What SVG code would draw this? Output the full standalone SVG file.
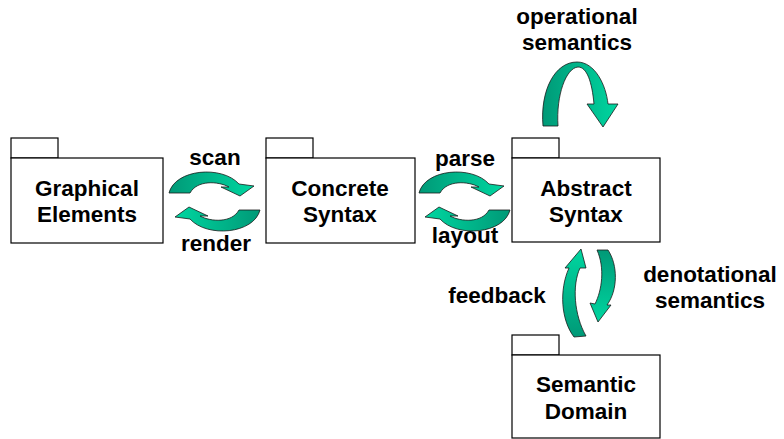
<svg xmlns="http://www.w3.org/2000/svg" width="784" height="439" viewBox="0 0 784 439">
<style>
.box{fill:#fff;stroke:#000;stroke-width:1.2}
.t{font-family:"Liberation Sans",Arial,sans-serif;font-weight:bold;font-size:22.5px;fill:#000;text-anchor:middle}
.arr{stroke:#1a1a1a;stroke-width:0.8;stroke-linejoin:round}
</style>
<defs>
<linearGradient id="gh" x1="0" y1="0" x2="1" y2="0">
<stop offset="0" stop-color="#009977"/>
<stop offset="1" stop-color="#00D6A0"/>
</linearGradient>
<linearGradient id="gup" x1="0" y1="1" x2="0" y2="0">
<stop offset="0" stop-color="#009977"/>
<stop offset="1" stop-color="#00D6A0"/>
</linearGradient>
<linearGradient id="gdown" x1="0" y1="0" x2="0" y2="1">
<stop offset="0" stop-color="#009977"/>
<stop offset="1" stop-color="#00D6A0"/>
</linearGradient>
<path id="cw" d="M169,193 C175,169 222,165 239,184 L254,186 L240,196 L221,187 L229,187 C218,181 197,180 190,193 Z"/>
</defs>

<g id="graphical-elements">
<rect class="box" x="11" y="138" width="47" height="20"/>
<rect class="box" x="11" y="158" width="152" height="85"/>
<text class="t" x="87" y="196">Graphical</text>
<text class="t" x="87" y="222">Elements</text>
</g>

<g id="concrete-syntax">
<rect class="box" x="266" y="138" width="47" height="20"/>
<rect class="box" x="266" y="158" width="149" height="85"/>
<text class="t" x="340" y="196">Concrete</text>
<text class="t" x="340" y="222">Syntax</text>
</g>

<g id="abstract-syntax">
<rect class="box" x="512" y="138" width="47" height="20"/>
<rect class="box" x="512" y="158" width="148" height="84"/>
<text class="t" x="586" y="196">Abstract</text>
<text class="t" x="586" y="222">Syntax</text>
</g>

<g id="semantic-domain">
<rect class="box" x="512" y="335" width="47" height="20"/>
<rect class="box" x="512" y="355" width="148" height="83"/>
<text class="t" x="586" y="392">Semantic</text>
<text class="t" x="586" y="419">Domain</text>
</g>

<g id="connectors">
<use href="#cw" class="arr" fill="url(#gh)"/>
<use href="#cw" class="arr" fill="url(#gh)" transform="rotate(180 214.5 201.5)"/>
<use href="#cw" class="arr" fill="url(#gh)" transform="translate(250 0)"/>
<use href="#cw" class="arr" fill="url(#gh)" transform="translate(250 0) rotate(180 214.5 201.5)"/>
<path class="arr" fill="url(#gh)" d="M543,126 C540,90 555,62 577,62 C595,62 606,85 608,104 L618,104 L603,127 L587,104 L594,104 C592,82 587,67 578,67 C566,68 556,95 558,126 Z"/>
<path class="arr" fill="url(#gup)" d="M574,337 C561,320 559,290 569,268 L565,268 L581,249 L586,268 L580,268 C572,285 574,315 586,336 Z"/>
<path class="arr" fill="url(#gdown)" d="M597,250 L608,250 C618,265 618,290 607,305 L611,305 L598,322 L590,303 L595,304 C602,290 605,268 597,250 Z"/>
<text class="t" x="215" y="165">scan</text>
<text class="t" x="216" y="251">render</text>
<text class="t" x="465" y="166">parse</text>
<text class="t" x="465" y="243">layout</text>
<text class="t" x="577" y="24">operational</text>
<text class="t" x="577" y="50">semantics</text>
<text class="t" x="497" y="303">feedback</text>
<text class="t" x="710" y="282">denotational</text>
<text class="t" x="710" y="308">semantics</text>
</g>
</svg>
